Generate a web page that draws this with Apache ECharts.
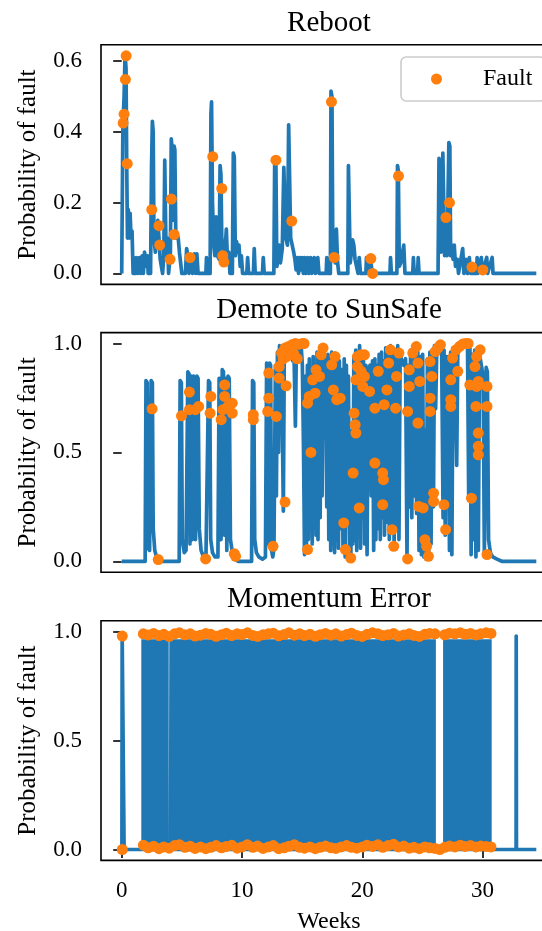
<!DOCTYPE html>
<html>
<head>
<meta charset="utf-8">
<script src="https://cdn.jsdelivr.net/npm/echarts@6/dist/echarts.min.js"></script>
<style>
  html, body { margin: 0; padding: 0; background: #fff; }
  #chart { width: 542px; height: 931px; }
</style>
</head>
<body>
<div id="chart"></div>
<script>
// panel titles and tick labels
var panelTitles = ['Reboot', 'Demote to SunSafe', 'Momentum Error'];
var weekTicks = [0, 10, 20, 30];
var rebootTicks = [0, 0.2, 0.4, 0.6];
var probTicks = [0, 0.5, 1.0];

// Reboot: probability trace [week, p] and faults
var rebootLine = [
  [0,0],[0.1,0.42],[0.2,0.5],[0.28,0.62],[0.36,0.58],[0.42,0.3],[0.48,0.1],[0.55,0.18],[0.62,0.1],[0.7,0.17],[0.78,0.1],[0.86,0.12],[0.95,0],
  [1.15,0],[1.2,0.045],[1.3,0.045],[1.35,0],[1.45,0.045],[1.55,0.045],[1.6,0],[1.7,0.05],[1.8,0],[1.9,0.06],[2.0,0.06],[2.05,0.02],[2.15,0.05],[2.2,0],
  [2.4,0],[2.48,0.3],[2.55,0.43],[2.62,0.4],[2.68,0.1],[2.8,0.06],[2.9,0.12],[3.0,0.15],[3.1,0.1],[3.2,0.04],[3.3,0.02],[3.4,0],[3.5,0.05],[3.58,0.32],[3.65,0.15],[3.7,0.04],[3.8,0.1],[3.9,0],
  [4.05,0.06],[4.12,0.38],[4.2,0.35],[4.28,0.15],[4.35,0.36],[4.42,0.35],[4.5,0.1],[4.6,0.11],[4.7,0.1],[4.8,0.06],[4.9,0.03],[5.0,0],
  [5.3,0],[5.4,0.07],[5.5,0.05],[5.6,0],[5.7,0.05],[5.8,0.02],[5.9,0],[6.05,0.055],[6.15,0],[6.25,0.055],[6.35,0],[7.0,0],[7.05,0.045],[7.1,0],
  [7.35,0],[7.42,0.45],[7.47,0.485],[7.55,0.2],[7.65,0.08],[7.75,0.05],[7.85,0.16],[7.95,0.05],[8.1,0.04],[8.18,0.305],[8.25,0.28],[8.32,0.1],[8.45,0.06],[8.55,0.04],[8.7,0.125],[8.8,0.03],[8.9,0.06],[9.0,0],
  [9.2,0],[9.28,0.34],[9.36,0.33],[9.45,0.05],[9.55,0.09],[9.65,0.06],[9.75,0.08],[9.85,0.02],[9.95,0.05],[10.05,0],
  [10.4,0],[10.47,0.045],[10.55,0],[10.95,0],[11.02,0.07],[11.1,0],[11.7,0],[11.77,0.045],[11.85,0],
  [12.65,0],[12.72,0.32],[12.82,0.31],[12.9,0.02],[13.0,0.04],[13.1,0.08],[13.2,0.03],[13.35,0.07],[13.48,0.3],[13.56,0.3],[13.65,0.1],[13.78,0.08],[13.88,0.42],[13.96,0.42],[14.05,0.1],[14.15,0.1],[14.3,0.06],[14.4,0.04],[14.5,0.01],
  [14.6,0.045],[14.7,0],[14.8,0.045],[14.9,0.01],[15.0,0.045],[15.1,0],[15.2,0.045],[15.3,0],[15.45,0.045],[15.55,0],[15.7,0.045],[15.8,0],[16.0,0.045],[16.1,0],[16.3,0.045],[16.4,0],
  [17.0,0],[17.05,0.045],[17.12,0],[17.35,0],[17.4,0.515],[17.48,0.5],[17.55,0.08],[17.65,0.05],[17.75,0.03],[17.85,0.125],[17.95,0.03],[18.05,0],
  [18.8,0],[18.85,0.305],[18.93,0.3],[19.0,0.03],[19.1,0.06],[19.2,0.095],[19.3,0.08],[19.4,0.04],[19.55,0.045],[19.65,0],[19.75,0.045],[19.85,0],
  [20.3,0],[20.35,0.045],[20.45,0],[20.65,0.045],[20.75,0.04],[20.85,0],[22.3,0],[22.35,0.045],[22.42,0],
  [22.88,0],[22.93,0.305],[23.0,0.29],[23.08,0.02],[23.2,0.03],[23.45,0.08],[23.55,0],[24.2,0],[24.25,0.045],[24.32,0],[24.6,0],[24.65,0.045],[24.72,0],
  [26.3,0],[26.38,0.325],[26.45,0.1],[26.55,0.06],[26.7,0.34],[26.78,0.345],[26.85,0.05],[26.95,0.1],[27.05,0.05],[27.2,0.37],[27.28,0.36],[27.35,0.05],[27.45,0.08],[27.55,0.04],[27.65,0.08],[27.75,0.02],[27.9,0.04],[28.0,0],
  [28.35,0.07],[28.45,0],[28.6,0.04],[28.75,0],[28.9,0.045],[29.0,0],[29.5,0],[29.55,0.045],[29.62,0],[29.9,0.045],[29.97,0],[30.35,0.045],[30.42,0],[30.8,0.045],[30.87,0],[34.47,0]
];
var rebootFault = [
  [0.12,0.425],[0.2,0.45],[0.31,0.548],[0.37,0.615],[0.46,0.31],[2.5,0.18],[3.1,0.135],[3.16,0.08],[4.02,0.04],[4.13,0.21],[4.36,0.11],
  [5.68,0.045],[7.57,0.33],[8.32,0.24],[8.4,0.05],[8.5,0.032],[12.82,0.32],[14.14,0.148],[17.44,0.485],[17.67,0.045],
  [20.71,0.042],[20.86,0.0],[23.01,0.275],[26.96,0.158],[27.25,0.2],[29.12,0.018],[30.03,0.01]
];

// Demote to SunSafe
var demoteLine = [
  [0,0],[1.95,0],[2.02,0.83],[2.12,0.82],[2.2,0.06],[2.32,0.05],[2.45,0.83],[2.55,0.82],[2.62,0.15],[2.75,0.05],[2.9,0.02],[3.2,0],
  [4.78,0],[4.86,0.83],[4.96,0.82],[5.04,0.1],[5.2,0.04],[5.35,0.05],[5.5,0.87],[5.6,0.86],[5.68,0.08],[5.8,0.85],[5.88,0.1],[5.98,0.85],[6.06,0.84],[6.14,0.1],[6.25,0.85],[6.35,0.84],[6.45,0.15],[6.6,0.05],[6.8,0.02],[7.0,0],
  [7.15,0],[7.22,0.83],[7.32,0.82],[7.4,0.1],[7.55,0.04],[7.75,0.02],[8.0,0.02],[8.1,0.84],[8.18,0.82],[8.26,0.1],[8.36,0.88],[8.46,0.87],[8.56,0.12],[8.66,0.84],[8.74,0.05],[8.84,0.85],[8.94,0.84],[9.04,0.1],[9.2,0.04],[9.4,0.01],[9.7,0],
  [10.8,0],[10.88,0.83],[10.98,0.82],[11.06,0.1],[11.2,0.04],[11.4,0.02],[11.7,0.01],[11.95,0.02],[12.05,0.91],[12.13,0.9],[12.22,0.08],[12.3,0.91],[12.38,0.9],[12.46,0.05],[12.56,0.02],[12.66,0.06],
  [12.78,0.9],[12.86,0.3],[12.95,0.96],[13.04,0.5],[13.12,0.99],[13.2,0.8],[13.28,0.98],[13.36,0.6],[13.44,0.23],[13.52,0.97],[13.62,0.95],[13.72,0.99],[13.82,0.93],[13.92,0.98],[14.02,0.94],[14.12,0.99],[14.22,0.92],[14.32,0.97],[14.44,0.62],[14.52,0.96],[14.62,0.93],[14.72,0.98],[14.82,0.94],[14.92,0.99],[15.02,0.9],[15.12,0.5],
  [15.2,0.03],[15.28,0.85],[15.36,0.05],[15.44,0.9],[15.52,0.1],[15.6,0.93],[15.68,0.15],[15.76,0.88],[15.84,0.08],[15.92,0.94],[16.0,0.2],[16.08,0.9],[16.16,0.12],[16.24,0.96],[16.32,0.1],[16.4,0.92],[16.5,0.2],[16.58,0.99],[16.66,0.3],[16.75,0.97],[16.85,0.9],[16.95,0.94],
  [17.05,0.25],[17.14,0.95],[17.22,0.1],[17.3,0.93],[17.38,0.05],[17.46,0.96],[17.54,0.08],[17.62,0.92],[17.7,0.04],[17.78,0.95],[17.86,0.1],[17.94,0.9],[18.02,0.06],[18.1,0.92],[18.2,0.15],[18.3,0.88],[18.4,0.05],[18.5,0.93],[18.58,0.02],[18.68,0.9],[18.76,0.2],[18.85,0.85],[18.95,0.01],
  [19.05,0.02],[19.15,0.6],[19.22,0.08],[19.3,0.94],[19.38,0.1],[19.46,0.97],[19.54,0.05],[19.62,0.95],[19.7,0.12],[19.78,0.99],[19.86,0.06],[19.94,0.96],[20.02,0.2],[20.1,0.93],[20.2,0.08],[20.3,0.9],[20.4,0.03],[20.5,0.88],[20.65,0.9],[20.75,0.3],[20.85,0.92],[20.95,0.05],
  [21.05,0.93],[21.13,0.1],[21.22,0.9],[21.3,0.15],[21.4,0.95],[21.5,0.1],[21.6,0.96],[21.68,0.2],[21.76,0.92],[21.85,0.12],[21.95,0.98],[22.05,0.18],[22.15,0.97],[22.25,0.1],[22.35,0.99],[22.45,0.14],[22.55,0.96],[22.65,0.06],[22.75,0.97],[22.85,0.15],[22.95,0.99],[23.05,0.1],
  [23.15,0.95],[23.3,0.92],[23.45,0.9],[23.6,0.93],[23.72,0.01],[23.82,0.9],[23.92,0.25],[24.02,0.97],[24.12,0.2],[24.22,0.96],[24.32,0.3],[24.42,0.99],[24.52,0.22],[24.62,0.96],[24.72,0.05],[24.82,0.94],[24.92,0.03],[25.02,0.95],[25.12,0.02],[25.22,0.6],[25.32,0.01],[25.42,0.93],
  [25.52,0.02],[25.62,0.96],[25.72,0.08],[25.82,0.97],[25.92,0.25],[26.0,0.99],[26.1,0.7],[26.2,0.99],[26.35,0.98],[26.5,1.0],[26.6,0.96],[26.72,0.2],[26.8,0.97],[26.9,0.12],[27.0,0.94],[27.07,0.45],[27.15,0.94],[27.25,0.05],[27.35,0.96],[27.45,0.03],[27.55,0.98],[27.7,0.96],
  [27.85,0.44],[27.95,1.0],[28.15,0.99],[28.35,1.0],[28.55,0.99],[28.75,1.0],[28.85,0.28],[28.95,0.98],[29.05,0.03],[29.15,0.95],[29.25,0.1],[29.35,0.97],[29.45,0.02],[29.55,0.96],[29.65,0.05],[29.75,0.95],[29.9,0.9],[30.05,0.85],[30.15,0.03],[30.3,0.89],[30.4,0.87],[30.5,0.1],
  [30.65,0.04],[30.85,0.02],[31.2,0.01],[31.6,0],[34.47,0]
];
var demoteFault = [
  [2.53,0.70],[3.04,0.008],[4.97,0.668],[5.63,0.777],[5.63,0.696],[6.12,0.696],[6.4,0.711],[6.98,0.011],[7.41,0.757],[7.35,0.68],
  [8.27,0.65],[8.56,0.81],[8.56,0.757],[8.41,0.696],[8.84,0.711],[9.19,0.726],[9.19,0.68],[9.36,0.035],[9.47,0.023],[10.94,0.673],[10.94,0.65],
  [12.23,0.864],[12.23,0.749],[12.14,0.688],[12.86,0.665],[12.58,0.069],[13.09,0.894],[13.09,0.841],[13.58,0.272],[13.67,0.806],
  [13.29,0.956],[13.58,0.979],[13.87,0.986],[14.15,0.994],[14.44,1.0],[14.73,0.997],[15.02,1.0],[15.16,1.0],[13.43,0.93],[13.72,0.94],[14.01,0.95],[14.3,0.953],[14.59,0.93],
  [15.45,0.054],[15.73,0.5],[15.45,0.726],[15.59,0.757],[15.88,0.833],[16.16,0.879],[16.45,0.849],[16.08,0.772],[16.59,0.948],[16.74,0.979],
  [17.46,0.902],[17.74,0.94],[17.6,0.787],[17.88,0.742],[18.17,0.749],[18.46,0.176],[18.6,0.054],[19.04,0.015],[19.32,0.68],[19.41,0.627],[19.47,0.589],[19.24,0.405],[19.75,0.245],
  [19.6,0.94],[19.9,0.948],[20.18,0.948],[19.6,0.894],[19.9,0.872],[19.47,0.833],[19.75,0.833],[20.18,0.849],[20.04,0.803],[20.61,0.78],
  [21.05,0.451],[21.05,0.703],[21.33,0.872],[21.7,0.405],[21.76,0.375],[21.7,0.26],[21.82,0.719],[22.05,0.787],[22.19,0.91],[22.48,0.145],[22.62,0.069],[22.34,0.971],[22.77,0.703],[22.85,0.849],[23.05,0.956],
  [23.77,0.011],[23.77,0.688],[23.91,0.803],[23.91,0.879],[24.2,0.956],[24.49,0.986],[24.63,0.91],[24.63,0.635],[24.69,0.252],[25.06,0.245],[25.21,0.099],[25.35,0.069],[25.5,0.023],[24.78,0.826],
  [25.64,0.688],[25.64,0.749],[25.64,0.917],[25.78,0.849],[25.93,0.313],[25.93,0.275],[26.07,0.963],[26.3,0.98],[26.5,0.994],[26.79,0.26],[26.93,0.145],
  [27.36,0.833],[27.36,0.742],[27.36,0.711],[27.51,0.933],[27.79,0.971],[28.08,0.986],[28.37,0.998],[28.6,1.0],[28.8,1.0],[27.94,0.872],[28.94,0.81],[29.08,0.29],
  [29.37,0.894],[29.51,0.94],[29.8,0.971],[29.51,0.803],[29.45,0.711],[29.65,0.589],[29.65,0.528],[29.65,0.489],[29.65,0.826],[30.37,0.803],[30.37,0.711],[30.37,0.031]
];

// Momentum Error: isolated trace, dense switching intervals (read as filled blocks) and faults
var momentumLine = [
  [0.02,0],[0.04,0.98],[0.18,0.98],[0.2,0],[1.66,0],[30.73,0],[32.79,0],[32.8,0.98],[32.82,0],[34.47,0]
];
var momentumBlocks = [[1.63, 3.91], [3.96, 26.12], [26.72, 30.76]];
var momentumBlockTop = 0.965;
var momentumFaultHigh = [
  [0.05,0.98],[1.8,0.99],[2.2,0.985],[2.65,0.992],[3.1,0.982],[3.5,0.988],[3.95,0.978],[4.4,0.99],[4.8,0.995],[5.25,0.986],[5.7,0.99],[6.1,0.98],
  [6.55,0.984],[7.0,0.992],[7.4,0.988],[7.85,0.979],[8.3,0.986],[8.7,0.993],[9.15,0.982],[9.6,0.99],[10.0,0.987],[10.45,0.995],[10.9,0.983],[11.3,0.978],
  [11.75,0.986],[12.2,0.99],[12.6,0.993],[13.05,0.981],[13.5,0.987],[13.9,0.995],[14.35,0.984],[14.8,0.99],[15.2,0.982],[15.65,0.988],[16.1,0.979],[16.5,0.986],
  [16.95,0.992],[17.4,0.984],[17.8,0.99],[18.25,0.98],[18.7,0.987],[19.1,0.993],[19.55,0.983],[20.0,0.978],[20.4,0.988],[20.85,0.995],[21.3,0.99],[21.7,0.982],
  [22.15,0.986],[22.6,0.992],[23.0,0.98],[23.45,0.985],[23.9,0.99],[24.3,0.983],[24.75,0.978],[25.2,0.988],[25.6,0.992],[26.05,0.99],
  [26.85,0.986],[27.25,0.993],[27.7,0.99],[28.15,0.995],[28.55,0.988],[29.0,0.992],[29.45,0.985],[29.85,0.99],[30.3,0.995],[30.7,0.992]
];
var momentumFaultLow = [
  [0.05,0.0],[1.8,0.02],[2.2,0.008],[2.65,0.015],[3.1,0.004],[3.5,0.012],[3.95,0.006],[4.4,0.018],[4.8,0.022],[5.25,0.01],[5.7,0.015],[6.1,0.005],
  [6.55,0.012],[7.0,0.004],[7.4,0.01],[7.85,0.018],[8.3,0.008],[8.7,0.014],[9.15,0.02],[9.6,0.006],[10.0,0.012],[10.45,0.022],[10.9,0.01],[11.3,0.016],
  [11.75,0.005],[12.2,0.012],[12.6,0.018],[13.05,0.004],[13.5,0.008],[13.9,0.015],[14.35,0.022],[14.8,0.01],[15.2,0.006],[15.65,0.012],[16.1,0.004],[16.5,0.01],
  [16.95,0.016],[17.4,0.008],[17.8,0.005],[18.25,0.012],[18.7,0.018],[19.1,0.01],[19.55,0.006],[20.0,0.012],[20.4,0.02],[20.85,0.014],[21.3,0.022],[21.7,0.01],
  [22.15,0.018],[22.6,0.024],[23.0,0.012],[23.45,0.016],[23.9,0.006],[24.3,0.01],[24.75,0.004],[25.2,0.012],[25.6,0.008],[26.05,0.005],[26.45,0.0],
  [26.85,0.01],[27.25,0.016],[27.7,0.012],[28.15,0.02],[28.55,0.014],[29.0,0.018],[29.45,0.012],[29.85,0.016],[30.3,0.014],[30.7,0.012]
];

var blue = '#1f77b4', orange = '#ff7f0e';
var serif = "'Liberation Serif', 'Times New Roman', serif";
var gridTops = [44.8, 332.6, 620.8];
var yRanges = [[-0.031, 0.646], [-0.05, 1.05], [-0.05, 1.05]];
var yTickSets = [rebootTicks, probTicks, probTicks];

// block outline as [week, p] vertices, filled down to 0
var blockData = [];
momentumBlocks.forEach(function (b) {
  blockData.push([b[0], 0], [b[0], momentumBlockTop], [b[1], momentumBlockTop], [b[1], 0]);
});

var grids = [], xAxes = [], yAxes = [], titles = [];
for (var i = 0; i < 3; i++) {
  // the right spine falls outside the picture, as in the reference
  grids.push({ left: 101, top: gridTops[i], width: 456, height: 239.6, show: true, outerBoundsMode: 'none',
    borderColor: '#000', borderWidth: 1.6, backgroundColor: 'transparent' });
  titles.push({ text: panelTitles[i], left: 329, textAlign: 'center', top: gridTops[i] - 36.8, padding: 0,
    textStyle: { fontFamily: serif, fontSize: 29, fontWeight: 'normal', color: '#000', lineHeight: 30 } });
  var last = (i === 2);
  xAxes.push({ type: 'value', gridIndex: i, min: -1.72, max: 36.19,
    axisLine: { show: false }, splitLine: { show: false },
    axisTick: { show: last, length: 8.5, customValues: weekTicks, lineStyle: { color: '#000', width: 1.6 } },
    axisLabel: { show: last, customValues: weekTicks, margin: 19, fontFamily: serif, fontSize: 23, color: '#000', lineHeight: 23 },
    name: last ? 'Weeks' : '', nameLocation: 'middle', nameGap: 49,
    nameTextStyle: { fontFamily: serif, fontSize: 24, color: '#000', lineHeight: 24 } });
  yAxes.push({ type: 'value', gridIndex: i, min: yRanges[i][0], max: yRanges[i][1],
    axisLine: { show: false }, splitLine: { show: false },
    axisTick: { show: true, length: 8.5, customValues: yTickSets[i], lineStyle: { color: '#000', width: 1.6 } },
    axisLabel: { customValues: yTickSets[i], margin: 19, fontFamily: serif, fontSize: 23, color: '#000',
      formatter: function (v) { return v.toFixed(1); } },
    name: 'Probability of fault', nameLocation: 'middle', nameGap: 60,
    nameTextStyle: { fontFamily: serif, fontSize: 25, color: '#000', lineHeight: 25 } });
}

function traceSeries(idx, data) {
  return { type: 'line', xAxisIndex: idx, yAxisIndex: idx, data: data, symbol: 'none', z: 2,
    lineStyle: { color: blue, width: 3.7, join: 'round' } };
}
function faultSeries(idx, data) {
  return { type: 'scatter', name: 'Fault', xAxisIndex: idx, yAxisIndex: idx, data: data, symbol: 'circle',
    symbolSize: 11, z: 3, itemStyle: { color: orange, opacity: 1 } };
}

var chart = echarts.init(document.getElementById('chart'), null, { renderer: 'canvas' });
chart.setOption({
  animation: false,
  title: titles,
  grid: grids,
  xAxis: xAxes,
  yAxis: yAxes,
  legend: {
    data: [{ name: 'Fault', icon: 'circle' }],
    left: 401, top: 57, itemWidth: 11, itemHeight: 11,
    padding: [10, 13, 10, 30],
    backgroundColor: 'rgba(255,255,255,0.8)', borderColor: '#cccccc', borderWidth: 1.6, borderRadius: 5,
    textStyle: { fontFamily: serif, fontSize: 24, color: '#000', lineHeight: 24, padding: [0, 0, 0, 36] }
  },
  series: [
    traceSeries(0, rebootLine),
    faultSeries(0, rebootFault),
    traceSeries(1, demoteLine),
    faultSeries(1, demoteFault),
    { type: 'line', xAxisIndex: 2, yAxisIndex: 2, data: blockData, symbol: 'none', z: 1,
      lineStyle: { width: 0 }, areaStyle: { color: blue, opacity: 1 } },
    traceSeries(2, momentumLine),
    faultSeries(2, momentumFaultHigh),
    faultSeries(2, momentumFaultLow)
  ]
});
</script>
</body>
</html>
